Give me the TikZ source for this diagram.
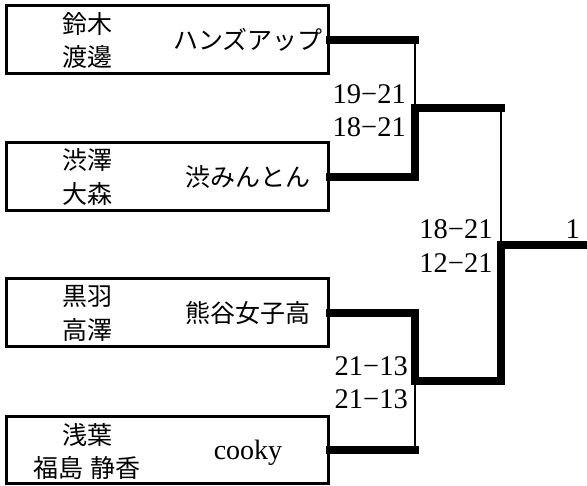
\documentclass[tikz,border=0pt]{standalone}
\usepackage{fontspec}
\setmainfont{Liberation Serif}
\newfontfamily\jpfont[WordSpace=1.3]{Noto Sans CJK JP}
\begin{document}
\begin{tikzpicture}[x=1pt,y=-1pt,
  box/.style={draw, line width=3pt, rectangle, minimum width=322pt, minimum height=68pt, inner sep=0pt},
  win/.style={line width=8pt, line cap=rect},
  lose/.style={line width=2.8pt, line cap=rect},
  jp/.style={font=\jpfont\fontsize{25}{25}\selectfont, anchor=base, inner sep=0pt},
  lat/.style={font=\fontsize{28}{28}\selectfont, anchor=base, inner sep=0pt},
  score/.style={font=\fontsize{28.5}{28.5}\selectfont, anchor=base east, inner sep=0pt}]
\useasboundingbox[fill=white] (0,0) rectangle (587,486);

% boxes
\node[box] (b1) at (167,40) {};
\node[box] (b2) at (167,177) {};
\node[box] (b3) at (167,313) {};
\node[box, minimum height=67pt] (b4) at (167,450.5) {};

% box texts
\node[jp] (b1a) at (87,33.5) {鈴木};
\node[jp] (b1b) at (87,67) {渡邊};
\node[jp] (b1t) at (248,50) {ハンズアップ};
\node[jp] (b2a) at (87,169.5) {渋澤};
\node[jp] (b2b) at (87,204) {大森};
\node[jp] (b2t) at (248,187) {渋みんとん};
\node[jp] (b3a) at (87,305.5) {黒羽};
\node[jp] (b3b) at (87,340) {高澤};
\node[jp] (b3t) at (248,323) {熊谷女子高};
\node[jp] (b4a) at (87,444.5) {浅葉};
\node[jp] (b4b) at (87,478) {福島 静香};
\node[lat] (b4t) at (248,460) {cooky};

% junctions
\coordinate (m1) at (415,108.5);
\coordinate (m2) at (415,381);
\coordinate (f) at (501,245);
\coordinate (e) at (590,245);

% match 1
\draw[win] (b1.east) -- (b1.east -| m1);
\draw[lose] (b1.east -| m1) -- (m1);
\draw[win] (b2.east) -| (m1) -- (m1 -| f);
\draw[lose] (m1 -| f) -- (f);

% match 2
\draw[win] (b4.east) -- (b4.east -| m2);
\draw[lose] (b4.east -| m2) -- (m2);
\draw[win] (b3.east) -| (m2) -- (m2 -| f) -- (f) -- (e);

% scores
\node[score] (s1) at (406,103.3) {19−21};
\node[score] (s2) at (406,136.7) {18−21};
\node[score] (s3) at (408,375.7) {21−13};
\node[score] (s4) at (408,409) {21−13};
\node[score] (s5) at (492.7,239) {18−21};
\node[score] (s6) at (492.7,272.7) {12−21};
\node[score] (r1) at (580,239) {1};
\end{tikzpicture}
\end{document}
